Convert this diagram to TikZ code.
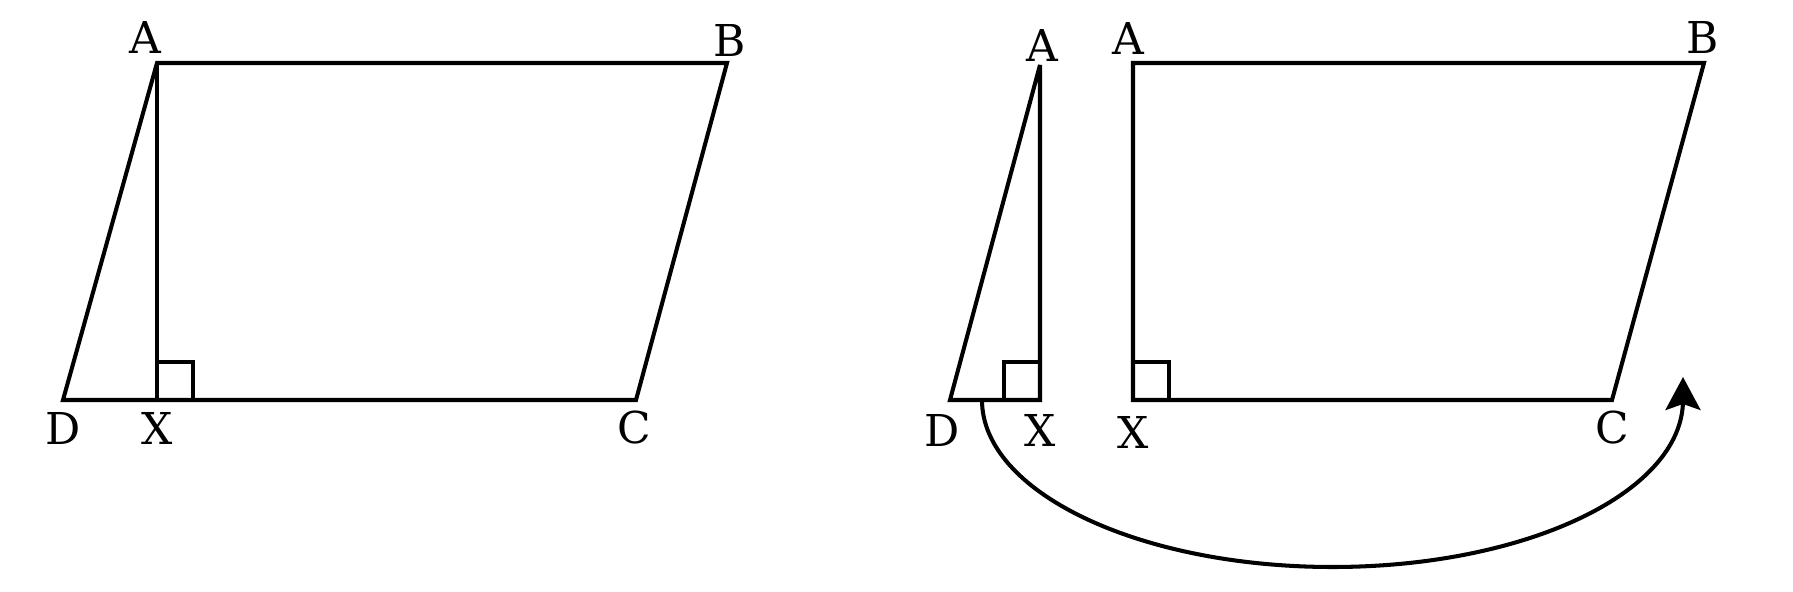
\documentclass[tikz,border=0pt]{standalone}
\usepackage{fontspec}
\setmainfont{DejaVu Serif}
\usetikzlibrary{arrows.meta,positioning}

\tikzset{
	figline/.style={line width=2.3pt, line join=miter},
	vlabel/.style={inner sep=0pt, font=\fontsize{25}{30}\selectfont},
}

\begin{document}
\begin{tikzpicture}[x=0.02cm, y=0.02cm]
		\useasboundingbox (0,0) rectangle (1793,592);
		% left: parallelogram with height AX
		\coordinate (A1) at (157,529);
		\coordinate (B1) at (727,529);
		\coordinate (C1) at (636,192);
		\coordinate (D1) at (63,192);
		\coordinate (X1) at (157,192);
		\draw[figline] (A1) -- (B1) -- (C1) -- (D1) -- cycle;
		\draw[figline] (A1) -- (X1);
		\draw[figline] (157,230) -- (193,230) -- (193,192);
		\node[vlabel] (lA1) at (145,555) {A};
		\node[vlabel] (lB1) at (730,552) {B};
		\node[vlabel] (lC1) at (634,164) {C};
		\node[vlabel] (lD1) at (63,164) {D};
		\node[vlabel] (lX1) at (157,164) {X};
		% right: triangle cut off
		\coordinate (A2) at (1040,527);
		\coordinate (D2) at (950,192);
		\coordinate (X2) at (1040,192);
		\draw[figline, miter limit=2] (A2) -- (X2) -- (D2) -- cycle;
		\draw[figline] (1040,230) -- (1004,230) -- (1004,192);
		\node[vlabel] (lA2) at (1042,547) {A};
		\node[vlabel] (lD2) at (942,162) {D};
		\node[vlabel] (lX2) at (1040,162) {X};
		% right: rectangle part
		\coordinate (A3) at (1133,529);
		\coordinate (B3) at (1704,529);
		\coordinate (C3) at (1612,192);
		\coordinate (X3) at (1133,192);
		\draw[figline] (A3) -- (B3) -- (C3) -- (X3) -- cycle;
		\draw[figline] (1133,230) -- (1169,230) -- (1169,192);
		\node[vlabel] (lA3) at (1128,554) {A};
		\node[vlabel] (lB3) at (1703,555) {B};
		\node[vlabel] (lC3) at (1612,164) {C};
		\node[vlabel] (lX3) at (1133,160) {X};
		% moving the triangle across
		\coordinate (S) at (982,192);
		\coordinate (T) at (1683,215);
		\draw[figline, -{Stealth[length=0.66cm, width=0.7cm, inset=0.12cm]}] (S) arc[start angle=180, end angle=360, x radius=350.5, y radius=167] -- (T);
	\end{tikzpicture}
\end{document}
